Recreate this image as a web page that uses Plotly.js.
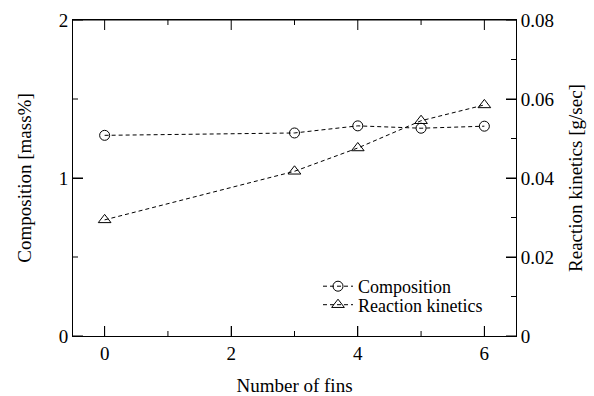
<!DOCTYPE html>
<html>
<head>
<meta charset="utf-8">
<script src="https://cdn.plot.ly/plotly-3.0.1.min.js"></script>
<style>html,body{margin:0;padding:0;background:#fff;}#chart{width:594px;height:396px;}</style>
</head>
<body>
<div id="chart"></div>
<script>
// ---- data ----
const fins = [0, 3, 4, 5, 6];
const composition = [1.27, 1.285, 1.33, 1.315, 1.328];
const kinetics = [0.0294, 0.0417, 0.0476, 0.0545, 0.0585];
const seriesNames = ['Composition', 'Reaction kinetics'];
// ---- tick labels / positions ----
const xMajor = [0, 2, 4, 6];
const xMinor = [1, 3, 5];
const yMajor = [0, 1, 2];
const yMinor = [0.5, 1.5];
const y2Major = [0, 0.02, 0.04, 0.06, 0.08];
const y2Labels = ['0', '0.02', '0.04', '0.06', '0.08'];
const y2Minor = [0.01, 0.03, 0.05, 0.07];
const xRange = [-0.5, 6.5], yRange = [0, 2], y2Range = [0, 0.08];

const W = 594, H = 396;
const M = {l: 73, r: 78, t: 20, b: 60};
const plotW = W - M.l - M.r, plotH = H - M.t - M.b;
const MAJ = 10, MIN = 5;

const font = {family: 'Liberation Serif, Times New Roman, serif', size: 19, color: '#000'};
const dash = '4px,3px';

const traces = [
  {x: fins, y: composition, name: seriesNames[0], type: 'scatter', mode: 'lines+markers',
   line: {color: '#000', width: 1, dash: dash},
   marker: {symbol: 'circle-open', size: 10, color: '#000', line: {width: 1, color: '#000'}},
   yaxis: 'y', legend: 'legend'},
  {x: fins, y: kinetics, name: seriesNames[1], type: 'scatter', mode: 'lines+markers',
   line: {color: '#000', width: 1, dash: dash},
   marker: {symbol: 'triangle-up-open', size: 11, color: '#000', line: {width: 1, color: '#000'}},
   yaxis: 'y2', legend: 'legend2'}
];

// frame top line and tick marks, built from the tick arrays through the axes' scales
const xSpan = xRange[1] - xRange[0], ySpan = yRange[1] - yRange[0], y2Span = y2Range[1] - y2Range[0];
function frameTrace(xs, ys, yaxis) {
  return {x: xs, y: ys, yaxis: yaxis, type: 'scatter', mode: 'lines', showlegend: false,
          hoverinfo: 'skip', cliponaxis: false, line: {color: '#000', width: 1}};
}
const fx = [], fy = [];
function addX(v, len) {
  const d = len / plotH * ySpan;
  fx.push(v, v, null, v, v, null);
  fy.push(yRange[0], yRange[0] + d, null, yRange[1], yRange[1] - d, null);
}
xMajor.forEach(v => addX(v, MAJ));
xMinor.forEach(v => addX(v, MIN));
fx.push(xRange[0], xRange[1], null); fy.push(yRange[1], yRange[1], null);
function addY(v, len) {
  const d = len / plotW * xSpan;
  fx.push(xRange[0], xRange[0] + d, null); fy.push(v, v, null);
}
yMajor.forEach(v => addY(v, MAJ));
yMinor.forEach(v => addY(v, MIN));
const gx = [], gy = [];
function addY2(v, len) {
  const d = len / plotW * xSpan;
  gx.push(xRange[1], xRange[1] - d, null); gy.push(v, v, null);
}
y2Major.forEach(v => addY2(v, MAJ));
y2Minor.forEach(v => addY2(v, MIN));
traces.push(frameTrace(fx, fy, 'y'));
traces.push(frameTrace(gx, gy, 'y2'));

const legendBase = {xanchor: 'left', yanchor: 'middle', bgcolor: 'rgba(0,0,0,0)', borderwidth: 0,
                    font: Object.assign({}, font, {size: 18}), itemwidth: 30};

const layout = {
  width: W, height: H,
  margin: M,
  paper_bgcolor: '#fff', plot_bgcolor: '#fff',
  font: font,
  showlegend: true,
  legend: Object.assign({x: (318 - M.l) / plotW, y: (H - M.b - 286.5) / plotH}, legendBase),
  legend2: Object.assign({x: (318 - M.l) / plotW, y: (H - M.b - 305) / plotH}, legendBase),
  xaxis: {
    range: xRange, tickvals: xMajor, ticktext: xMajor.map(String),
    ticks: 'inside', ticklen: MAJ, tickwidth: 1, tickcolor: '#000',
    showline: true, linecolor: '#000', linewidth: 1, mirror: true,
    showgrid: false, zeroline: false, tickfont: font,
    title: {text: 'Number of fins', font: font, standoff: 21}
  },
  yaxis: {
    range: yRange, tickvals: yMajor, ticktext: yMajor.map(String),
    ticks: 'inside', ticklen: MAJ, tickwidth: 1, tickcolor: '#000',
    showline: true, linecolor: '#000', linewidth: 1,
    showgrid: false, zeroline: false, tickfont: font,
    title: {text: 'Composition [mass%]', font: font, standoff: 22}
  },
  yaxis2: {
    range: y2Range, overlaying: 'y', side: 'right',
    tickvals: y2Major, ticktext: y2Labels,
    ticks: 'inside', ticklen: MAJ, tickwidth: 1, tickcolor: '#000',
    showline: true, linecolor: '#000', linewidth: 1,
    showgrid: false, zeroline: false, tickfont: font,
    title: {text: 'Reaction kinetics [g/sec]', font: font, standoff: 15}
  }
};

Plotly.newPlot('chart', traces, layout, {displayModeBar: false});
</script>
</body>
</html>
